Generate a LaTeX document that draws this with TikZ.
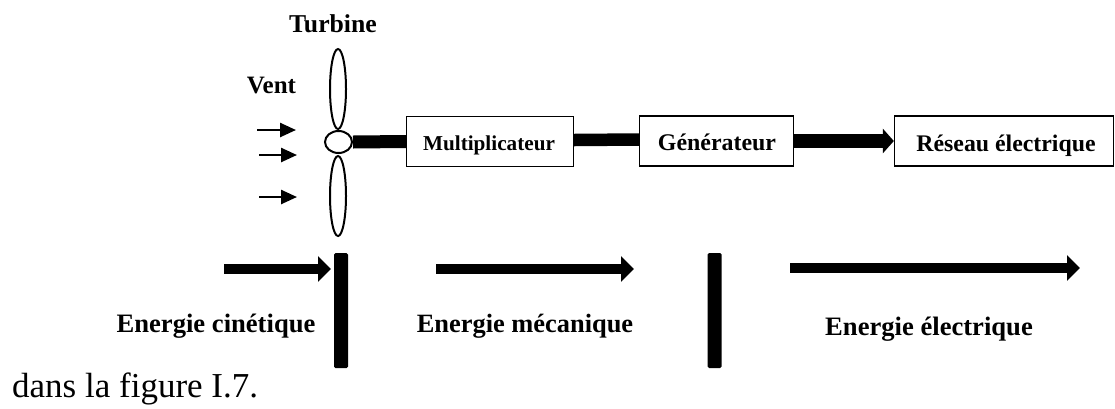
\documentclass[tikz,border=0pt]{standalone}
\usepackage{fontspec}
\newfontfamily\labelfont{Liberation Serif}
\usetikzlibrary{arrows.meta,shapes.geometric}
\begin{document}
\begin{tikzpicture}[x=1pt,y=-1pt,
  lbl/.style={font=\labelfont\bfseries\fontsize{#1}{#1}\selectfont, inner sep=0pt, anchor=base},
  block/.style={draw, line width=1.3pt, inner sep=0pt, minimum height=50pt},
  blade/.style={ellipse, draw, line width=2pt, inner sep=0pt,
    minimum width=16pt, minimum height=80pt},
  shaft/.style={line width=#1},
  flow/.style={line width=10pt, -{Triangle[length=13pt,width=25pt]}},
  wind/.style={line width=2.5pt, -{Triangle[length=16pt,width=14pt]}},
  stop/.style={fill=black, rounded corners=1.5pt, inner sep=0pt,
    minimum width=14pt, minimum height=115pt}
]
\useasboundingbox (0,0) rectangle (1115,408);

% turbine: hub and two blades
\node[blade] (bladeup) at (338,89) {};
\node[blade] (bladedown) at (338,196) {};
\node[ellipse, draw, line width=2pt, fill=white, inner sep=0pt,
  minimum width=27pt, minimum height=22pt] (hub) at (338.5,142) {};

\node[lbl=25.7] (turbine) at (333,32) {Turbine};
\node[lbl=25] (vent) at (271.5,93) {Vent};

% incoming wind
\coordinate (w1s) at (257,130); \coordinate (w1e) at (296,130);
\coordinate (w2s) at (259,155); \coordinate (w2e) at (297,155);
\coordinate (w3s) at (259,197); \coordinate (w3e) at (297,197);
\draw[wind] (w1s) -- (w1e);
\draw[wind] (w2s) -- (w2e);
\draw[wind] (w3s) -- (w3e);

% conversion chain
\node[block, minimum width=167pt] (mult) at (490,141.5) {};
\node[block, minimum width=154pt] (gen) at (716.5,141) {};
\node[block, minimum width=219pt] (res) at (1004,141) {};
\node[lbl=21.2] (multtext) at (489,150.5) {Multiplicateur};
\node[lbl=23.9] (gentext) at (717,150) {Générateur};
\node[lbl=23.8] (restext) at (1006,151) {Réseau électrique};

\draw[shaft=13pt] (hub.east) -- (mult.west);
\draw[shaft=12.5pt] ([yshift=1.5pt]mult.east) -- ([yshift=1.5pt]gen.west);
\draw[line width=14pt, -{Triangle[length=11pt,width=24pt]}] (gen.east) -- (res.west);

% energy forms along the chain
\coordinate (e1s) at (224,269); \coordinate (e1e) at (331,269);
\coordinate (e2s) at (436,269); \coordinate (e2e) at (634,269);
\coordinate (e3s) at (790,268); \coordinate (e3e) at (1080,268);
\draw[flow] (e1s) -- (e1e);
\draw[flow] (e2s) -- (e2e);
\draw[flow] (e3s) -- (e3e);

\node[stop] (stop1) at (341,310.5) {};
\node[stop] (stop2) at (714.5,310.5) {};

\node[lbl=26.6] (ekin) at (216,332) {Energie cinétique};
\node[lbl=26.4] (emec) at (525,332) {Energie mécanique};
\node[lbl=26.6] (eel) at (929,335) {Energie électrique};

\node[font=\labelfont\fontsize{35}{35}\selectfont, inner sep=0pt, anchor=base west]
  (caption) at (12,397) {dans la figure I.7.};
\end{tikzpicture}
\end{document}
